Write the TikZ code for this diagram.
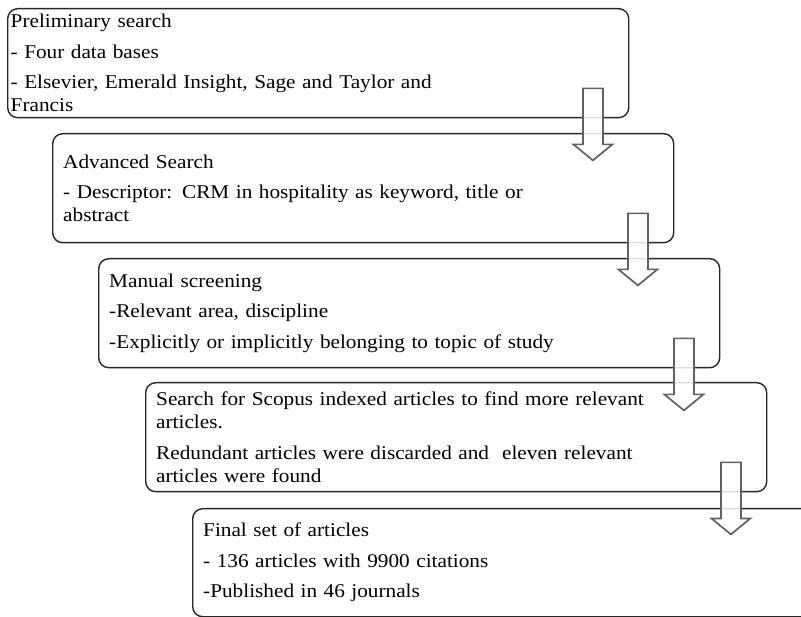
\documentclass[tikz,border=0pt]{standalone}
\usepackage{fontspec}
\setmainfont[FakeStretch=1.09]{Liberation Serif}
\usetikzlibrary{calc}
\newcommand\myboxfont{\fontsize{19.5}{23}\selectfont\lineskiplimit=-30pt\relax}
\begin{document}
\begin{tikzpicture}[x=1pt,y=-1pt,
  box/.style={draw=black!85, line width=1.4pt, rounded corners=10pt,
    minimum width=621pt, minimum height=109pt, text width=600pt,
    align=left, inner xsep=10.5pt, inner ysep=0pt, anchor=north west,
    font=\myboxfont},
  barrow/.style={draw=black!62, line width=1.7pt, fill=white, fill opacity=0.85, miter limit=10},
  pics/blockarrow/.style={code={
    \draw[barrow] (-10,0) -- (10,0) -- (10,56) -- (19.5,56) -- (0,72) -- (-19.5,56) -- (-10,56) -- cycle;}}
]
\useasboundingbox (0,0) rectangle (801,617);
\clip (0,0) rectangle (801,617);

\node[box, inner xsep=3pt, text width=615pt] (b1) at (7,8)
  {Preliminary search\\[7.5pt]
   - Four data bases\\[7.5pt]
   - Elsevier, Emerald Insight, Sage and Taylor and\\
   Francis};
\node[box] (b2) at (52,133)
  {Advanced Search\\[7.5pt]
   - Descriptor: CRM in hospitality as keyword, title or\\
   abstract};
\node[box] (b3) at (98,258)
  {Manual screening\\[7.5pt]
   -Relevant area, discipline\\[7.5pt]
   -Explicitly or implicitly belonging to topic of study};
\node[box] (b4) at (145,382)
  {Search for Scopus indexed articles to find more relevant\\
   articles.\\[7.5pt]
   Redundant articles were discarded and \ eleven relevant\\
   articles were found};
\node[box, minimum height=108pt] (b5) at (192,508)
  {Final set of articles\\[7.5pt]
   - 136 articles with 9900 citations\\[7.5pt]
   -Published in 46 journals};

\pic at ($(b1.south east)+(-36.5,-30)$) {blockarrow};
\pic at ($(b2.south east)+(-36.5,-30)$) {blockarrow};
\pic at ($(b3.south east)+(-36.5,-30)$) {blockarrow};
\pic at ($(b4.south east)+(-36.5,-30)$) {blockarrow};
\end{tikzpicture}
\end{document}
